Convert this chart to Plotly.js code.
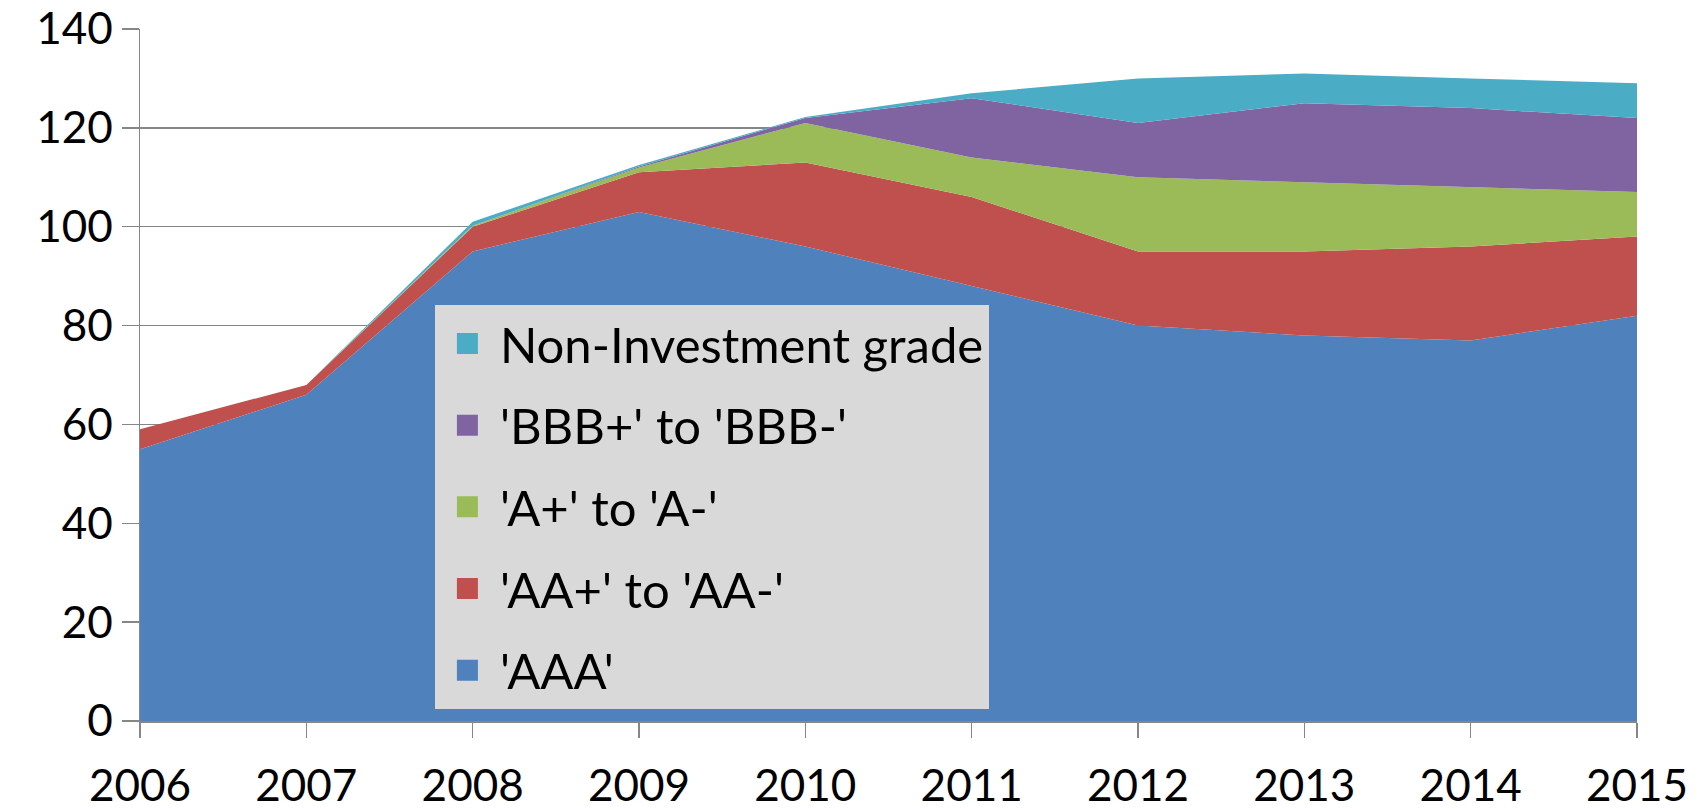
<!DOCTYPE html>
<html>
<head>
<meta charset="utf-8">
<script src="https://cdn.plot.ly/plotly-3.0.1.min.js"></script>
<style>html,body{margin:0;padding:0;background:#fff;}#chart{width:1707px;height:810px;}</style>
</head>
<body>
<div id="chart"></div>
<script>
const years = [2006, 2007, 2008, 2009, 2010, 2011, 2012, 2013, 2014, 2015];
const aaa   = [55, 66, 95, 103, 96, 88, 80, 78, 77, 82];
const aa    = [4, 2, 5, 8, 17, 18, 15, 17, 19, 16];
const a     = [0, 0, 0.2, 1, 8, 8, 15, 14, 12, 9];
const bbb   = [0, 0, 0, 0.2, 1, 12, 11, 16, 16, 15];
const nonIG = [0, 0, 0.8, 0.3, 0.2, 1, 9, 6, 6, 7];

const names  = ["'AAA'", "'AA+' to 'AA-'", "'A+' to 'A-'", "'BBB+' to 'BBB-'", "Non-Investment grade"];
const colors = ["#4F81BD", "#C0504D", "#9BBB59", "#8064A2", "#4BACC6"];
const series = [aaa, aa, a, bbb, nonIG];

const traces = [];
series.forEach((vals, i) => {
  traces.push({
    x: years, y: vals, name: names[i], type: 'scatter', mode: 'lines',
    stackgroup: 'one', fillcolor: colors[i], line: {width: 0, color: colors[i]},
    showlegend: false, hoverinfo: 'x+y+name'
  });
});
// legend entries (top to bottom: Non-IG ... AAA)
for (let i = series.length - 1; i >= 0; i--) {
  traces.push({
    x: [null], y: [null], name: names[i], type: 'scatter', mode: 'markers',
    marker: {symbol: 'square', size: 16, color: colors[i], line: {width: 5, color: colors[i]}},
    legendgroup: 'g' + i, showlegend: true
  });
}

const font = {family: 'Lato, "Open Sans", sans-serif', size: 44, color: '#000'};
const legendFont = {family: 'Lato, "Open Sans", sans-serif', size: 49, color: '#000'};
const layout = {
  width: 1707, height: 810,
  margin: {l: 140, r: 70, t: 29, b: 89},
  paper_bgcolor: '#fff', plot_bgcolor: '#fff',
  font: font,
  showlegend: true,
  legend: {
    x: 0.197, y: 0.601, xanchor: 'left', yanchor: 'top',
    bgcolor: '#D9D9D9', borderwidth: 0,
    font: legendFont, traceorder: 'grouped', tracegroupgap: 15,
    itemsizing: 'trace', itemwidth: 55
  },
  xaxis: {
    range: [2006, 2015], tickmode: 'array', tickvals: years, ticktext: years.map(String),
    showgrid: false, zeroline: false, showline: true, linecolor: '#868686', linewidth: 1.5,
    ticks: 'outside', ticklen: 15, tickcolor: '#868686', tickwidth: 1.5,
    tickfont: font, ticklabelstandoff: 11, fixedrange: true
  },
  yaxis: {
    range: [0, 140], dtick: 20, tick0: 0,
    showgrid: true, gridcolor: '#868686', gridwidth: 1.5, zeroline: false,
    showline: true, linecolor: '#868686', linewidth: 1.5,
    ticks: 'outside', ticklen: 17, tickcolor: '#868686', tickwidth: 1.5,
    tickfont: font, fixedrange: true
  }
};
Plotly.newPlot('chart', traces, layout, {displayModeBar: false, staticPlot: true});
</script>
</body>
</html>
